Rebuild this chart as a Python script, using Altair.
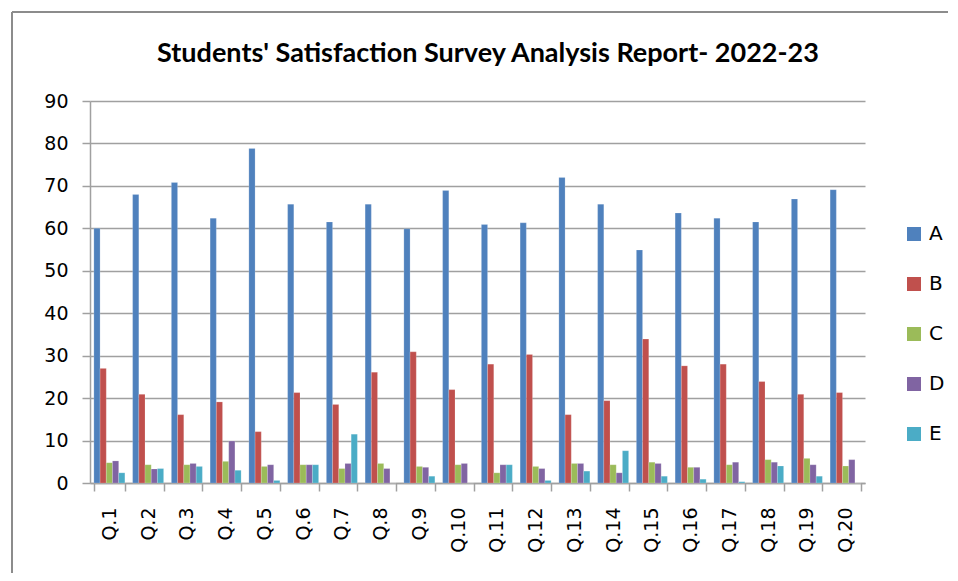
import altair as alt
import pandas as pd

questions = [f"Q.{i}" for i in range(1, 21)]
responses = ["A", "B", "C", "D", "E"]
colors = ["#4F81BD", "#C0504D", "#9BBB59", "#8064A2", "#4BACC6"]
title_text = "Students' Satisfaction Survey Analysis Report- 2022-23"

A = [60.0, 68.0, 70.8, 62.4, 78.8, 65.7, 61.5, 65.7, 59.9, 68.9,
     60.9, 61.3, 72.0, 65.7, 54.9, 63.6, 62.4, 61.5, 66.9, 69.1]
B = [27.0, 20.9, 16.1, 19.1, 12.1, 21.3, 18.5, 26.1, 30.9, 22.0,
     28.0, 30.3, 16.1, 19.4, 33.9, 27.6, 28.0, 23.9, 20.9, 21.3]
C = [4.8, 4.3, 4.3, 5.1, 3.9, 4.3, 3.4, 4.6, 3.9, 4.3,
     2.4, 3.9, 4.6, 4.3, 4.9, 3.7, 4.3, 5.5, 5.8, 4.0]
D = [5.2, 3.3, 4.6, 9.9, 4.3, 4.3, 4.6, 3.4, 3.7, 4.6,
     4.3, 3.4, 4.6, 2.4, 4.6, 3.7, 4.9, 4.9, 4.3, 5.5]
E = [2.4, 3.4, 3.9, 3.0, 0.6, 4.3, 11.5, 0.0, 1.6, 0.0,
     4.3, 0.6, 2.8, 7.6, 1.6, 0.9, 0.3, 4.0, 1.6, 0.0]

series = {"A": A, "B": B, "C": C, "D": D, "E": E}
rows = []
for r in responses:
    for q, v in zip(questions, series[r]):
        rows.append({"Question": q, "Response": r, "Value": v})
df = pd.DataFrame(rows)

FONT = "DejaVu Sans"

bars = alt.Chart(df).mark_bar(stroke="white", strokeWidth=0.3, strokeOpacity=0.6).encode(
    x=alt.X("Question:N", sort=questions, title=None,
            scale=alt.Scale(paddingInner=0.2, paddingOuter=0.1),
            axis=alt.Axis(labelAngle=-90, labelFontSize=19, labelFont=FONT,
                          labelColor="black", tickBand="extent", tickSize=8,
                          tickColor="#a0a0a0", domainColor="#a0a0a0",
                          domainWidth=1.5, tickWidth=1.5, labelPadding=16,
                          grid=False)),
    xOffset=alt.XOffset("Response:N", sort=responses),
    y=alt.Y("Value:Q", title=None,
            scale=alt.Scale(domain=[0, 90], nice=False),
            axis=alt.Axis(values=list(range(0, 91, 10)), labelFontSize=19,
                          labelFont=FONT, labelColor="black", tickSize=8,
                          tickColor="#a0a0a0", domainColor="#a0a0a0",
                          domainWidth=1.5, tickWidth=1.5, labelPadding=14,
                          gridColor="#a0a0a0", gridWidth=1.5)),
    color=alt.Color("Response:N", sort=responses,
                    scale=alt.Scale(domain=responses, range=colors),
                    legend=alt.Legend(title=None, orient="none", legendX=814,
                                      legendY=123, symbolType="square",
                                      symbolSize=196, symbolStrokeWidth=0,
                                      labelFontSize=20, labelFont=FONT,
                                      labelColor="black", rowPadding=30,
                                      labelOffset=5)),
)

border_top = alt.Chart(df).mark_rule(color="#8c8c8c", strokeWidth=2).encode(
    x=alt.value(-78), x2=alt.value(870), y=alt.value(-89))
border_left = alt.Chart(df).mark_rule(color="#8c8c8c", strokeWidth=2).encode(
    x=alt.value(-78), y=alt.value(-89), y2=alt.value(480))

title = alt.Chart(pd.DataFrame({"t": [title_text]})).mark_text(
    font="Lato", fontSize=27, fontWeight="bold", color="black",
    align="center", baseline="alphabetic").encode(
    x=alt.value(398), y=alt.value(-39), text="t:N")

chart = alt.layer(border_top, border_left, title, bars).properties(
    width=775, height=382,
    autosize=alt.AutoSizeParams(type="none"),
    padding={"left": 82, "top": 93, "right": 83, "bottom": 90},
).configure_view(stroke=None)

chart.save("out.html", embed_options={"renderer": "svg", "actions": False})
